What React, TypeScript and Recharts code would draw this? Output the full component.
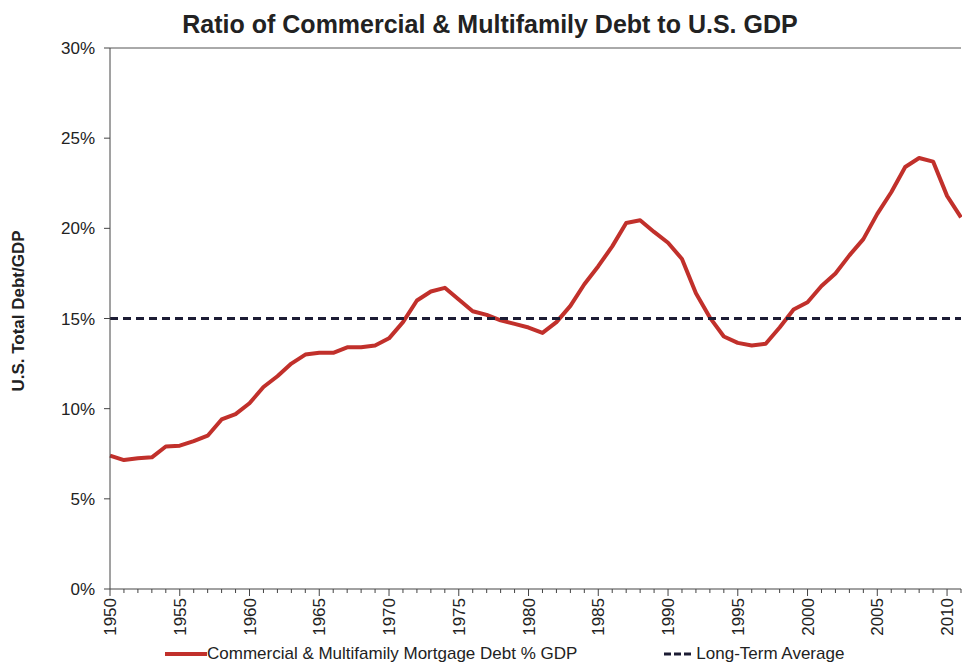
import React from "react";
import { LineChart, Line, XAxis, YAxis, ReferenceLine } from "recharts";

const years = [
  1950, 1951, 1952, 1953, 1954, 1955, 1956, 1957, 1958, 1959,
  1960, 1961, 1962, 1963, 1964, 1965, 1966, 1967, 1968, 1969,
  1970, 1971, 1972, 1973, 1974, 1975, 1976, 1977, 1978, 1979,
  1980, 1981, 1982, 1983, 1984, 1985, 1986, 1987, 1988, 1989,
  1990, 1991, 1992, 1993, 1994, 1995, 1996, 1997, 1998, 1999,
  2000, 2001, 2002, 2003, 2004, 2005, 2006, 2007, 2008, 2009,
  2010, 2011,
];

const debtPct = [
  7.4, 7.15, 7.25, 7.3, 7.9, 7.95, 8.2, 8.5, 9.4, 9.7,
  10.3, 11.2, 11.8, 12.5, 13.0, 13.1, 13.1, 13.4, 13.4, 13.5,
  13.9, 14.8, 16.0, 16.5, 16.7, 16.05, 15.4, 15.2, 14.9, 14.7,
  14.5, 14.2, 14.8, 15.7, 16.9, 17.9, 19.0, 20.3, 20.45, 19.8,
  19.2, 18.3, 16.4, 15.05, 14.0, 13.65, 13.5, 13.6, 14.5, 15.5,
  15.9, 16.8, 17.5, 18.5, 19.4, 20.8, 22.0, 23.4, 23.9, 23.7,
  21.8, 20.6,
];

const longTermAverage = 15;

const yTicks = [0, 5, 10, 15, 20, 25, 30];

const title = "Ratio of Commercial & Multifamily Debt to U.S. GDP";
const yLabel = "U.S. Total Debt/GDP";
const seriesName = "Commercial & Multifamily Mortgage Debt % GDP";
const avgName = "Long-Term Average";

const data = years.map((y, i) => ({ year: y, debt: debtPct[i], avg: longTermAverage }));

const FONT = "'Liberation Sans', Arial, sans-serif";
const RED = "#c1302b";
const DASH = "#1c1c34";

const XTick = (props: any) => {
  const { x, y, payload } = props;
  const v = payload.value as number;
  const major = v % 5 === 0;
  return (
    <g>
      <line x1={x} y1={y} x2={x} y2={y + (major ? 7 : 4)} stroke="#444" strokeWidth={1} />
      {major && (
        <text
          x={0}
          y={0}
          transform={`translate(${x + 6}, ${y + 9}) rotate(-90)`}
          textAnchor="end"
          fontSize={17}
          fill="#222"
          fontFamily={FONT}
        >
          {v}
        </text>
      )}
    </g>
  );
};

export default function App() {
  return (
    <div
      style={{
        position: "absolute",
        left: 0,
        top: 0,
        width: 962,
        height: 665,
        background: "#fff",
        fontFamily: FONT,
        overflow: "hidden",
      }}
    >
      <LineChart width={962} height={665} data={data} margin={{ top: 48, right: 1, left: 30, bottom: 0 }}>
        <XAxis
          dataKey="year"
          type="number"
          domain={[1950, 2011]}
          ticks={years}
          interval={0}
          height={76}
          tickSize={0}
          tickMargin={0}
          tickLine={false}
          axisLine={{ stroke: "#444", strokeWidth: 1 }}
          tick={<XTick />}
        />
        <YAxis
          type="number"
          domain={[0, 30]}
          ticks={yTicks}
          width={80}
          tickSize={6}
          tickMargin={9}
          tickFormatter={(v: number) => `${v}%`}
          axisLine={{ stroke: "#444", strokeWidth: 1 }}
          tickLine={{ stroke: "#444" }}
          tick={{ fontSize: 17, fill: "#222", fontFamily: FONT }}
        />
        <ReferenceLine y={30} stroke="#555" strokeWidth={1} />
        <Line
          dataKey="debt"
          stroke={RED}
          strokeWidth={4}
          dot={false}
          isAnimationActive={false}
          strokeLinejoin="round"
        />
        <Line
          dataKey="avg"
          stroke={DASH}
          strokeWidth={3}
          strokeDasharray="8 5"
          dot={false}
          isAnimationActive={false}
        />
      </LineChart>

      <div
        style={{
          position: "absolute",
          left: 0,
          width: 980,
          top: 10,
          textAlign: "center",
          fontSize: 25,
          fontWeight: "bold",
          color: "#222",
        }}
      >
        {title}
      </div>

      <div
        style={{
          position: "absolute",
          left: 19,
          top: 311,
          transform: "translate(-50%, -50%) rotate(-90deg)",
          whiteSpace: "nowrap",
          fontSize: 17,
          fontWeight: "bold",
          color: "#222",
        }}
      >
        {yLabel}
      </div>

      <div
        style={{
          position: "absolute",
          left: 165,
          top: 644,
          display: "flex",
          alignItems: "center",
          fontSize: 17,
          color: "#222",
          whiteSpace: "nowrap",
        }}
      >
        <svg width={42} height={10} style={{ display: "block" }}>
          <line x1={0} y1={5} x2={42} y2={5} stroke={RED} strokeWidth={4} />
        </svg>
        <span>{seriesName}</span>
        <svg width={28} height={10} style={{ display: "block", marginLeft: 87 }}>
          <line x1={0} y1={5} x2={28} y2={5} stroke={DASH} strokeWidth={3} strokeDasharray="7 3" />
        </svg>
        <span style={{ marginLeft: 4 }}>{avgName}</span>
      </div>
    </div>
  );
}
